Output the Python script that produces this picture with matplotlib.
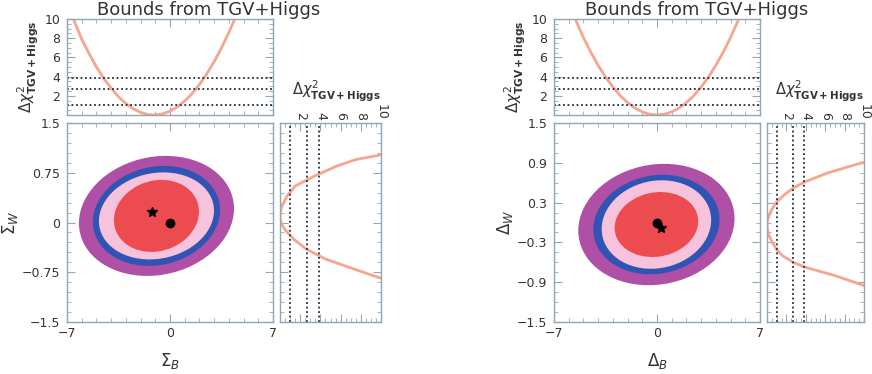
from matplotlib import pyplot as plt
from matplotlib.patches import Ellipse
from matplotlib.ticker import MultipleLocator
import numpy as np

# ---- data ----
# levels of the dotted lines (1 dof: 68%, 90%, 95%)
chi2_lines = [1.0, 2.71, 3.84]

# left figure: Sigma_B / Sigma_W
sigB_x = [-6.7, -6.0, -5.5, -5.0, -4.5, -4.0, -3.5, -3.0, -2.5, -2.0, -1.5, -1.1,
          -0.5, 0.0, 0.5, 1.0, 1.5, 2.0, 2.5, 3.0, 3.5, 4.0, 4.6]
sigB_chi2 = [10.5, 7.9, 6.4, 5.0, 3.8, 2.8, 1.9, 1.2, 0.65, 0.27, 0.05, 0.0,
             0.12, 0.4, 0.85, 1.46, 2.23, 3.17, 4.28, 5.55, 6.99, 8.59, 10.7]
sigW_y = [-0.84, -0.7, -0.55, -0.4, -0.25, -0.1, -0.02, 0.05, 0.1, 0.17, 0.25,
          0.4, 0.55, 0.7, 0.85, 0.95, 1.02]
sigW_chi2 = [10.0, 7.3, 4.5, 2.6, 1.35, 0.45, 0.15, 0.02, 0.0, 0.05, 0.2,
             0.7, 1.5, 3.4, 5.6, 7.5, 10.0]
sig_center = (-0.92, 0.10)
sig_semi_x = [5.27, 4.32, 3.91, 2.89]   # purple, blue, pink, red boundaries
sig_semi_y = [0.905, 0.754, 0.656, 0.543]
sig_rho = 0.12
sig_best = (-1.22, 0.16)
sig_sm = (0.0, 0.0)

# right figure: Delta_B / Delta_W
delB_x = [-5.7, -5.0, -4.5, -4.0, -3.5, -3.0, -2.5, -2.0, -1.5, -1.0, -0.5, 0.0,
          0.5, 1.0, 1.5, 2.0, 2.5, 3.0, 3.5, 4.0, 4.5, 5.0, 5.7]
delB_chi2 = [10.5, 8.07, 6.54, 5.17, 3.96, 2.91, 2.02, 1.29, 0.73, 0.32, 0.08, 0.0,
             0.08, 0.32, 0.73, 1.29, 2.02, 2.91, 3.96, 5.17, 6.54, 8.07, 10.5]
delW_y = [-0.95, -0.8, -0.67, -0.6, -0.5, -0.41, -0.3, -0.2, -0.12, -0.05, 0.03, 0.1,
          0.2, 0.31, 0.42, 0.52, 0.61, 0.75, 0.91]
delW_chi2 = [10.0, 7.0, 3.84, 2.71, 1.6, 1.0, 0.55, 0.22, 0.05, 0.0, 0.05, 0.2,
             0.5, 1.0, 1.8, 2.71, 3.84, 6.3, 10.0]
del_center = (-0.04, -0.03)
del_semi_x = [5.31, 4.29, 3.72, 2.84]
del_semi_y = [0.915, 0.75, 0.667, 0.49]
del_rho = 0.1
del_best = (0.3, -0.08)
del_sm = (0.0, 0.0)

region_colors = ['#b04fa6', '#2f54b3', '#f7c3dc', '#ec4c50']
curve_color = '#f6a58e'
line_color = '#1f2d3d'
frame_color = '#93a6b6'
text_color = '#333333'
chi2_label = r'$\Delta\chi^{2}_{\mathbf{TGV+Higgs}}$'

plt.rcParams['font.family'] = ['DejaVu Sans']

fig = plt.figure(figsize=(8.72, 3.74), dpi=100)


def style_axes(ax):
    for s in ax.spines.values():
        s.set_color(frame_color)
        s.set_linewidth(1.0)
    ax.tick_params(which='both', direction='in', top=True, right=True,
                   color=frame_color, labelcolor=text_color, labelsize=9)
    ax.tick_params(which='major', length=6)
    ax.tick_params(which='minor', length=3)


def ellipse(center, a, b, rho, color):
    m = np.array([[a * a, rho * a * b], [rho * a * b, b * b]])
    vals, vecs = np.linalg.eigh(m)
    angle = np.degrees(np.arctan2(vecs[1, 1], vecs[0, 1]))
    return Ellipse(center, 2 * np.sqrt(vals[1]), 2 * np.sqrt(vals[0]), angle=angle,
                   facecolor=color, edgecolor='none')


def panel(x0, x_side, w_side, top_x, top_chi2, side_y, side_chi2, center, semi_x,
          semi_y, rho, best, sm, yticks, ylab, xlab, title_x):
    w_main = 206 / 872
    ax_top = fig.add_axes([x0, 0.6925, w_main, 0.2567])
    ax_main = fig.add_axes([x0, 0.139, w_main, 0.532])
    ax_side = fig.add_axes([x_side, 0.139, w_side, 0.532])

    # top profile
    ax_top.plot(top_x, top_chi2, color=curve_color, lw=2)
    for c in chi2_lines:
        ax_top.axhline(c, color=line_color, lw=1.3, ls=(0, (1, 1.5)))
    ax_top.set_xlim(-7, 7)
    ax_top.set_ylim(0, 10)
    ax_top.set_yticks([2, 4, 6, 8, 10])
    ax_top.yaxis.set_minor_locator(MultipleLocator(0.5))
    ax_top.set_xticks([-7, 0, 7])
    ax_top.xaxis.set_minor_locator(MultipleLocator(1))
    ax_top.set_xticklabels([])
    style_axes(ax_top)
    ax_top.tick_params(axis='y', pad=5)
    ax_top.set_ylabel(chi2_label, fontsize=11, color=text_color, labelpad=2)

    # main contours
    for a, b, col in zip(semi_x, semi_y, region_colors):
        ax_main.add_patch(ellipse(center, a, b, rho, col))
    ax_main.plot(best[0], best[1], marker='*', color='k', ms=7, ls='none')
    ax_main.plot(sm[0], sm[1], marker='o', color='k', ms=6, ls='none')
    ax_main.set_xlim(-7, 7)
    ax_main.set_ylim(-1.5, 1.5)
    ax_main.set_xticks([-7, 0, 7])
    ax_main.xaxis.set_minor_locator(MultipleLocator(1))
    ax_main.set_yticks(yticks)
    ax_main.set_yticklabels([('%g' % t).replace('-', '\u2212') for t in yticks])
    ax_main.set_xticklabels(['\u22127', '0', '7'])
    ax_main.yaxis.set_minor_locator(MultipleLocator(0.15))
    style_axes(ax_main)
    ax_main.tick_params(axis='y', pad=5)
    ax_main.set_xlabel(xlab, fontsize=12, color=text_color, labelpad=8)
    ax_main.set_ylabel(ylab, fontsize=12, color=text_color, labelpad=1)

    # side profile
    ax_side.plot(side_chi2, side_y, color=curve_color, lw=2)
    for c in chi2_lines:
        ax_side.axvline(c, color=line_color, lw=1.3, ls=(0, (1, 1.5)))
    ax_side.set_xlim(0, 10)
    ax_side.set_ylim(-1.5, 1.5)
    ax_side.set_xticks([2, 4, 6, 8, 10])
    ax_side.xaxis.set_minor_locator(MultipleLocator(0.5))
    ax_side.set_yticks(yticks)
    ax_side.yaxis.set_minor_locator(MultipleLocator(0.15))
    ax_side.set_yticklabels([])
    style_axes(ax_side)
    ax_side.tick_params(axis='x', labeltop=True, labelbottom=False, labelrotation=-90, pad=2)
    fig.text(x_side + w_side, 1 - 91 / 374, chi2_label, ha='right', va='center',
             fontsize=10.5, color=text_color)

    fig.text(title_x, 0.973, 'Bounds from TGV+Higgs', ha='center', va='center',
             fontsize=13, color=text_color)


panel(67 / 872, 280 / 872, 101 / 872, sigB_x, sigB_chi2, sigW_y, sigW_chi2, sig_center,
      sig_semi_x, sig_semi_y, sig_rho, sig_best, sig_sm,
      [-1.5, -0.75, 0, 0.75, 1.5], r'$\Sigma_W$', r'$\Sigma_B$', 209 / 872)
panel(554 / 872, 767 / 872, 97 / 872, delB_x, delB_chi2, delW_y, delW_chi2, del_center,
      del_semi_x, del_semi_y, del_rho, del_best, del_sm,
      [-1.5, -0.9, -0.3, 0.3, 0.9, 1.5], r'$\Delta_W$', r'$\Delta_B$', 697 / 872)

fig.savefig('out.png', dpi=100)
